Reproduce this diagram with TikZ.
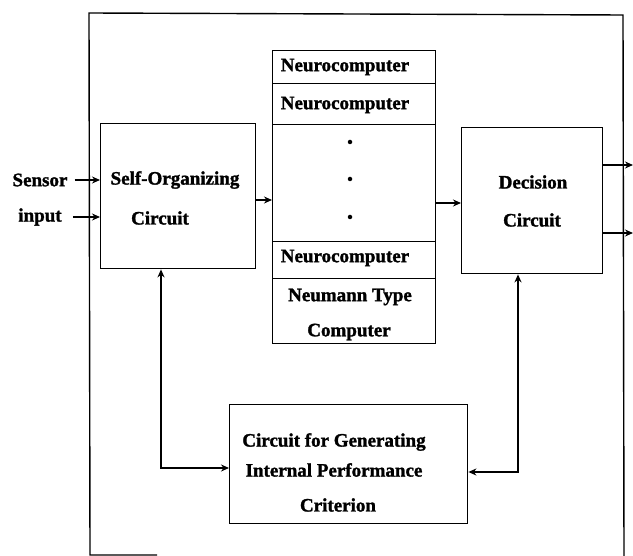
\documentclass[tikz,border=0pt]{standalone}
\usepackage{fontspec}
\setmainfont{Liberation Serif}
\newfontfamily\heavy[FakeBold=1.5]{Liberation Serif Bold}
\usetikzlibrary{arrows.meta}
\begin{document}
\begin{tikzpicture}[x=1pt,y=-1pt,
  ln/.style={line width=1.4pt},
  box/.style={draw,ln,inner sep=0pt,anchor=north west},
  lbl/.style={font=\fontsize{19}{21}\heavy,inner sep=0pt},
  dotm/.style={fill,circle,inner sep=0pt,minimum size=4.5pt},
  arr/.style={ln,-{Stealth[length=8pt,width=7pt]}},
  arrb/.style={ln,{Stealth[length=8pt,width=7pt]}-{Stealth[length=8pt,width=7pt]}}]
\useasboundingbox (0,0) rectangle (633,556);
% outer frame
\draw[ln] (157,555) -- (90,555) -- (89,13) -- (623,15) -- (624,556);
% boxes
\node[box,minimum width=155,minimum height=145] (so) at (100,123) {};
\node[box,minimum width=163,minimum height=33] (r1) at (272,50) {};
\node[box,minimum width=163,minimum height=41] (r2) at (272,83) {};
\node[box,minimum width=163,minimum height=117] (r3) at (272,124) {};
\node[box,minimum width=163,minimum height=37] (r4) at (272,241) {};
\node[box,minimum width=163,minimum height=65] (r5) at (272,278) {};
\node[box,minimum width=141,minimum height=146] (dc) at (461,127) {};
\node[box,minimum width=238,minimum height=119] (cg) at (229,404) {};
% texts
\node[lbl] (sensor) at (40,180) {Sensor};
\node[lbl] (input) at (40,217) {input};
\node[lbl] (so1) at (175,180) {Self-Organizing};
\node[lbl] (so2) at (160,218) {Circuit};
\node[lbl] (t1) at (345,67) {Neurocomputer};
\node[lbl] (t2) at (345,105) {Neurocomputer};
\node[dotm] (d1) at (350,142) {};
\node[dotm] (d2) at (350,179) {};
\node[dotm] (d3) at (350,217) {};
\node[lbl] (t4) at (345,258) {Neurocomputer};
\node[lbl] (t5) at (350,297) {Neumann Type};
\node[lbl] (t6) at (349,332) {Computer};
\node[lbl] (dc1) at (533,182) {Decision};
\node[lbl] (dc2) at (532,220) {Circuit};
\node[lbl] (cg1) at (334,442) {Circuit for Generating};
\node[lbl] (cg2) at (334,470) {Internal Performance};
\node[lbl] (cg3) at (338,505) {Criterion};
% connectors
\draw[arr] ([xshift=7pt]sensor.east |- sensor) -- (sensor -| so.west);
\draw[arr] ([xshift=11pt]input.east |- input) -- (input -| so.west);
\coordinate (m1) at (255,200);
\draw[arr] (m1) -- (m1 -| r3.west);
\coordinate (m2) at (435,203);
\draw[arr] (m2) -- (m2 -| dc.west);
\coordinate (o1) at (633,165);
\coordinate (o2) at (633,233);
\draw[arr] (o1 -| dc.east) -- (o1);
\draw[arr] (o2 -| dc.east) -- (o2);
\coordinate (lx) at (161,468);
\draw[arrb] (lx |- so.south) -- (lx) -- (lx -| cg.west);
\coordinate (rx) at (518,472);
\draw[arrb] (rx |- dc.south) -- (rx) -- (rx -| cg.east);
\end{tikzpicture}
\end{document}
